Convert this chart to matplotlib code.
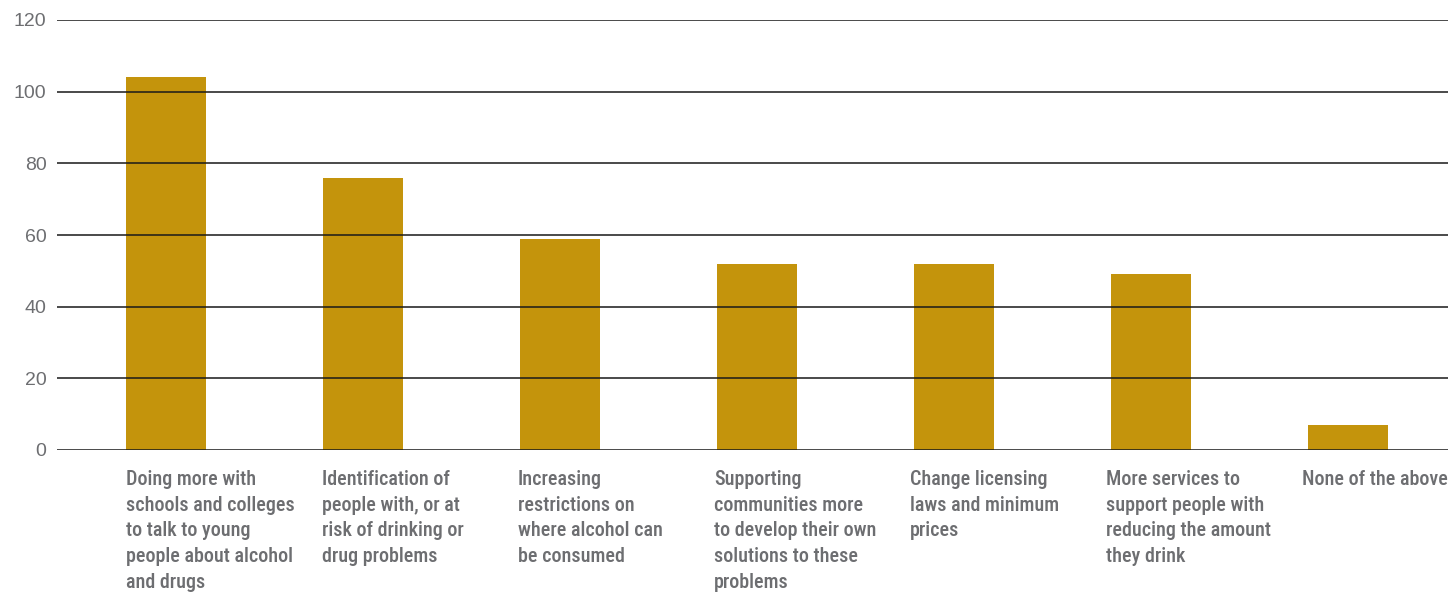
import matplotlib
matplotlib.use("Agg")
import matplotlib.pyplot as plt
from matplotlib import font_manager

categories = [
    "Doing more with\nschools and colleges\nto talk to young\npeople about alcohol\nand drugs",
    "Identification of\npeople with, or at\nrisk of drinking or\ndrug problems",
    "Increasing\nrestrictions on\nwhere alcohol can\nbe consumed",
    "Supporting\ncommunities more\nto develop their own\nsolutions to these\nproblems",
    "Change licensing\nlaws and minimum\nprices",
    "More services to\nsupport people with\nreducing the amount\nthey drink",
    "None of the above",
]
values = [104, 76, 59, 52, 52, 49, 7]
yticks = [0, 20, 40, 60, 80, 100, 120]

names = {f.name for f in font_manager.fontManager.ttflist}
narrow = "Roboto"
for cand in ["Roboto Condensed", "Archivo Narrow", "PT Sans Narrow",
             "Fira Sans Condensed", "Liberation Sans Narrow"]:
    if cand in names:
        narrow = cand
        break

W, H = 1448, 595
fig = plt.figure(figsize=(W / 100, H / 100), dpi=100)
ax = fig.add_axes([57 / W, 1 - 450 / H, 1 - 57 / W, (450 - 20) / H])

bar_color = "#C4940C"
text_color = "#6D6E71"
bw = 0.406
x = list(range(len(values)))
ax.bar(x, values, width=bw, color=bar_color, zorder=1)
ax.set_ylim(0, 120)
ax.set_xlim(-0.553, 6.508)
ax.set_yticks(yticks)
ax.set_yticklabels([str(t) for t in yticks], fontsize=14, color=text_color,
                   family=["Liberation Sans", "DejaVu Sans"])
ax.tick_params(axis="y", length=0, pad=7.5)
ax.set_xticks([])
for t in yticks:
    ax.axhline(t, color="#1a1a1a", lw=1.3, alpha=0.85, zorder=2)
for s in ax.spines.values():
    s.set_visible(False)

# labels are evenly spaced, starting at the first bar's left edge
step = 196 / 197
for xi, lab in zip(x, categories):
    lx = -bw / 2 + xi * step
    ax.annotate(lab, xy=(lx, 0), xycoords="data",
                xytext=(0, -14.5), textcoords="offset points",
                ha="left", va="top", fontsize=14.5, color=text_color,
                fontweight=500, family=[narrow, "DejaVu Sans"],
                linespacing=1.44, annotation_clip=False)

fig.savefig("out.png", dpi=100)
